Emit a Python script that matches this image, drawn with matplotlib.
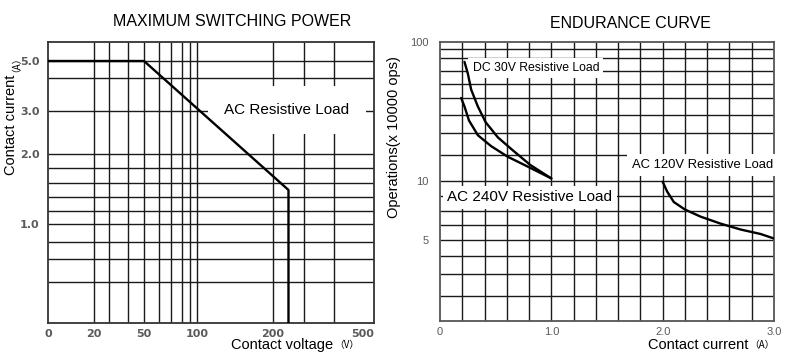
import numpy as np
import matplotlib
matplotlib.use('Agg')
import matplotlib.pyplot as plt

plt.rcParams['font.family'] = ['Liberation Sans', 'Noto Sans CJK SC', 'DejaVu Sans']

# ---- data ----
# maximum switching power (AC resistive load)
volt = [0, 50, 250, 250]
amp = [5.0, 5.0, 1.5, 0.2]

# endurance curves
dc30_i = [0.22, 0.25, 0.28, 0.34, 0.41, 0.52, 0.65, 0.81, 1.0]
dc30_ops = [77, 68, 56, 45, 36, 28, 22.3, 16.2, 11.0]
ac240_i = [0.19, 0.22, 0.26, 0.34, 0.46, 0.61, 0.79, 1.0]
ac240_ops = [50, 45, 37, 29, 24, 19.3, 15.5, 11.0]
ac120_i = [2.0, 2.04, 2.1, 2.2, 2.34, 2.52, 2.7, 2.88, 3.0]
ac120_ops = [9.9, 8.6, 7.6, 7.1, 6.6, 6.1, 5.7, 5.4, 5.1]

# ticks / grid values
v_ticks = [0, 20, 50, 100, 200, 500]
v_tick_labels = ['0', '20', '50', '100', '200', '500']
v_grid = [20, 30, 40, 50, 60, 70, 80, 90, 100, 200, 300, 400]
a_ticks = [1.0, 2.0, 3.0, 5.0]
a_tick_labels = ['1.0', '2.0', '3.0', '5.0']
a_grid = [0.4, 0.6, 0.8, 1.0, 1.2, 1.4, 1.6, 1.8, 2.0, 3.0, 4.0, 5.0]
i_ticks = [0, 1.0, 2.0, 3.0]
i_tick_labels = ['0', '1.0', '2.0', '3.0']
i_grid = np.arange(0.2, 2.9, 0.2)
ops_ticks = [5, 10, 100]
ops_tick_labels = ['5', '10', '100']
ops_grid = [2, 3, 4, 5, 6, 7, 8, 10, 20, 30, 40, 50, 60, 70, 80, 90]

# ---- the datasheet axes are hand drawn, so scales are piecewise ----
v_scale_val = [0, 20, 30, 40, 50, 60, 70, 80, 90, 100, 200, 300, 400, 500, 600]
v_scale_pos = [0, 46, 61, 80, 96, 111, 123, 134, 142, 149, 225, 256, 286, 315, 344]
a_scale_val = [0.2, 0.4, 0.6, 0.8, 1.0, 1.2, 1.4, 1.6, 1.8, 2.0, 3.0, 4.0, 5.0, 6.0]
a_scale_pos = [0, 41, 64, 81, 99, 112, 126, 140, 155, 169, 212, 245, 262, 281]
ops_scale_val = [1, 2, 3, 4, 5, 6, 7, 8, 10, 20, 30, 40, 50, 60, 70, 80, 90, 100]
ops_scale_pos = [0, 25, 47, 65, 81, 96, 110, 125, 140, 166, 188, 206, 223, 237, 250, 263, 272, 279]


def piecewise(vals, pos):
    fwd = lambda x: np.interp(x, vals, pos)
    inv = lambda p: np.interp(p, pos, vals)
    return fwd, inv


tick_gray = '#5a5a5a'
grid_col = '#1a1a1a'
curve_kw = dict(color='black', lw=1.7, zorder=4,
                solid_joinstyle='round', solid_capstyle='round')

fig = plt.figure(figsize=(8, 3.59), dpi=100)

# ================= MAXIMUM SWITCHING POWER =================
ax1 = fig.add_axes([0.06, 0.1003, 0.4075, 0.7827])
ax1.set_xscale('function', functions=piecewise(v_scale_val, v_scale_pos))
ax1.set_yscale('function', functions=piecewise(a_scale_val, a_scale_pos))
ax1.set_xlim(0, 538)
ax1.set_ylim(0.2, 6.0)

ax1.vlines(v_grid, 0.2, 6.0, color=grid_col, lw=1.0, zorder=1)
ax1.hlines(a_grid, 0, 538, color=grid_col, lw=1.0, zorder=1)
ax1.plot(volt, amp, **curve_kw)

ax1.set_xticks(v_ticks, v_tick_labels)
ax1.set_yticks(a_ticks, a_tick_labels)
ax1.minorticks_off()
ax1.tick_params(length=0, labelsize=8, labelcolor=tick_gray)
ax1.tick_params(axis='y', pad=6)
ax1.tick_params(axis='x', pad=4)
for lab in ax1.get_xticklabels() + ax1.get_yticklabels():
    lab.set_family('DejaVu Sans')
    lab.set_fontweight('bold')
for sp in ax1.spines.values():
    sp.set_linewidth(1.3)
    sp.set_color('#333333')

ax1.text(0.733, 0.758, 'AC Resistive Load', transform=ax1.transAxes,
         ha='center', va='center', fontsize=11, zorder=3,
         bbox=dict(boxstyle='square,pad=1.1', fc='white', ec='none'))

ax1.set_xlabel('Contact voltage', fontsize=10.5, loc='right')
ax1.xaxis.set_label_coords(0.874, -0.055)
ax1.annotate('（V）', xy=(1, 0.5), xycoords=ax1.xaxis.label,
             xytext=(1, 0), textcoords='offset points',
             ha='left', va='center', fontsize=7, family=['Noto Sans CJK SC'])
ax1.set_ylabel('Contact current', fontsize=10.5)
ax1.yaxis.set_label_coords(-0.092, 0.705)
ax1.annotate('（A）', xy=(0.5, 1), xycoords=ax1.yaxis.label, rotation=90,
             xytext=(0, 2), textcoords='offset points',
             ha='center', va='bottom', fontsize=7, family=['Noto Sans CJK SC'])

fig.text(232 / 800, 1 - 21 / 359, 'MAXIMUM SWITCHING POWER',
         ha='center', va='center', fontsize=11.5)

# ================= ENDURANCE CURVE =================
ax2 = fig.add_axes([0.55, 0.1058, 0.4175, 0.7772])
ax2.set_yscale('function', functions=piecewise(ops_scale_val, ops_scale_pos))
ax2.set_xlim(0, 3.0)
ax2.set_ylim(1, 100)

ax2.vlines(i_grid, 1, 100, color=grid_col, lw=1.0, zorder=1)
ax2.hlines(ops_grid, 0, 3.0, color=grid_col, lw=1.0, zorder=1)
ax2.plot(dc30_i, dc30_ops, **curve_kw)
ax2.plot(ac240_i, ac240_ops, **curve_kw)
ax2.plot(ac120_i, ac120_ops, **curve_kw)

ax2.set_xticks(i_ticks, i_tick_labels)
ax2.set_yticks(ops_ticks, ops_tick_labels)
ax2.minorticks_off()
ax2.tick_params(length=0, labelsize=8, labelcolor=tick_gray)
ax2.tick_params(axis='y', pad=8)
ax2.tick_params(axis='x', pad=4)
for sp in ax2.spines.values():
    sp.set_linewidth(1.3)
    sp.set_color('#555555')

ax2.text(0.287, 0.907, 'DC 30V Resistive Load', transform=ax2.transAxes,
         ha='center', va='center', fontsize=8.8, zorder=3,
         bbox=dict(boxstyle='square,pad=0.35', fc='white', ec='none'))
ax2.text(0.786, 0.559, 'AC 120V Resistive Load', transform=ax2.transAxes,
         ha='center', va='center', fontsize=9.4, zorder=3,
         bbox=dict(boxstyle='square,pad=0.35', fc='white', ec='none'))
ax2.text(0.269, 0.444, 'AC 240V Resistive Load', transform=ax2.transAxes,
         ha='center', va='center', fontsize=11, zorder=3,
         bbox=dict(boxstyle='square,pad=0.3', fc='white', ec='none'))

ax2.set_xlabel('Contact current', fontsize=10.5, loc='right')
ax2.xaxis.set_label_coords(0.922, -0.062)
ax2.annotate('（A）', xy=(1, 0.5), xycoords=ax2.xaxis.label,
             xytext=(1, 0), textcoords='offset points',
             ha='left', va='center', fontsize=7, family=['Noto Sans CJK SC'])
ax2.set_ylabel('Operations(x 10000 ops)', fontsize=10.5)
ax2.yaxis.set_label_coords(-0.117, 0.658)

fig.text(630 / 800, 1 - 23 / 359, 'ENDURANCE CURVE',
         ha='center', va='center', fontsize=11.5)

fig.savefig('out.png', dpi=100)
